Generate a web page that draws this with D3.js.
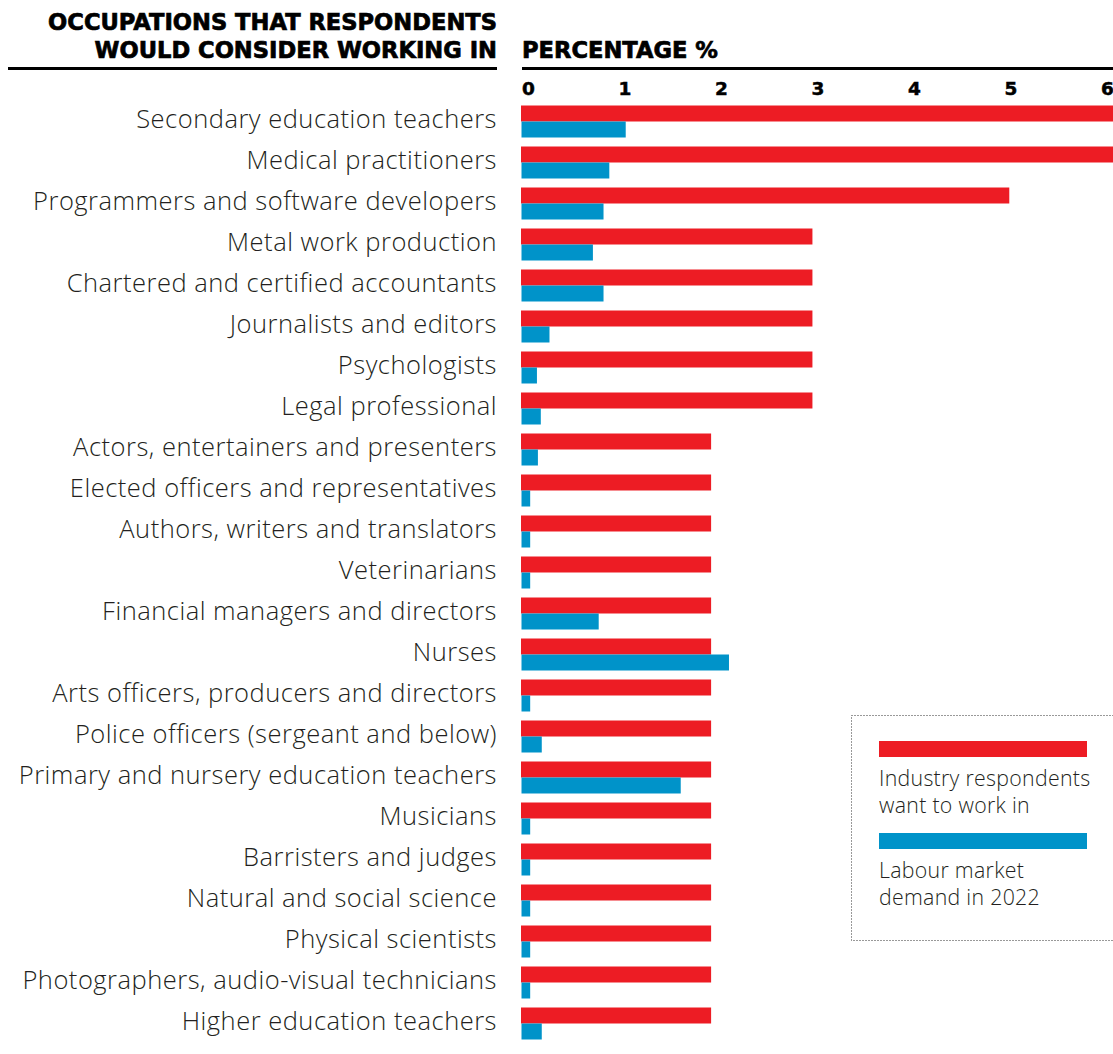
<!DOCTYPE html>
<html>
<head>
<meta charset="utf-8">
<script src="https://cdn.jsdelivr.net/npm/d3@7"></script>
<style>
  html, body { margin: 0; padding: 0; background: #fff; }
  svg { display: block; }
</style>
</head>
<body>
<div id="chart"></div>
<script>
// Data
const occupations = [
    "Secondary education teachers",
    "Medical practitioners",
    "Programmers and software developers",
    "Metal work production",
    "Chartered and certified accountants",
    "Journalists and editors",
    "Psychologists",
    "Legal professional",
    "Actors, entertainers and presenters",
    "Elected officers and representatives",
    "Authors, writers and translators",
    "Veterinarians",
    "Financial managers and directors",
    "Nurses",
    "Arts officers, producers and directors",
    "Police officers (sergeant and below)",
    "Primary and nursery education teachers",
    "Musicians",
    "Barristers and judges",
    "Natural and social science",
    "Physical scientists",
    "Photographers, audio-visual technicians",
    "Higher education teachers"
];

// red: industry respondents want to work in
const wantToWork = [6.2, 6.2, 5.06, 3.02, 3.02, 3.02, 3.02, 3.02,
                    1.97, 1.97, 1.97, 1.97, 1.97, 1.97, 1.97, 1.97,
                    1.97, 1.97, 1.97, 1.97, 1.97, 1.97, 1.97];

// blue: labour market demand in 2022
const marketDemand = [1.08, 0.91, 0.85, 0.74, 0.85, 0.29, 0.16, 0.2,
                      0.17, 0.09, 0.09, 0.09, 0.8, 2.15, 0.09, 0.21,
                      1.65, 0.09, 0.09, 0.09, 0.09, 0.09, 0.21];

const tickValues = [0, 1, 2, 3, 4, 5, 6];

const titleLines = ["OCCUPATIONS THAT RESPONDENTS", "WOULD CONSIDER WORKING IN"];
const axisTitle = "PERCENTAGE %";
const legendItems = [
    { lines: ["Industry respondents", "want to work in"], color: "#ed1c24" },
    { lines: ["Labour market", "demand in 2022"], color: "#0093c9" }
];

// Canvas
const width = 1113;
const height = 1054;
const red = "#ed1c24";
const blue = "#0093c9";
const ink = "#231f20";
const heavy = "'DejaVu Sans', sans-serif";
const light = "'Open Sans', sans-serif";

const svg = d3.select("#chart")
    .append("svg")
    .attr("width", width)
    .attr("height", height);

// scales
const x = d3.scaleLinear()
    .domain([0, 6])
    .range([521, 1100]);

const y = d3.scaleBand()
    .domain(occupations)
    .range([105.5, 105.5 + occupations.length * 41]);

const barH = 16;

// header, left side (stroke thickens the bold face toward the original black weight)
svg.append("g")
    .selectAll("text")
    .data(titleLines)
    .join("text")
    .attr("x", 497)
    .attr("y", (d, i) => 30 + i * 28)
    .attr("text-anchor", "end")
    .attr("font-family", heavy)
    .attr("font-weight", "bold")
    .attr("font-size", 22.6)
    .attr("fill", "#000")
    .attr("stroke", "#000")
    .attr("stroke-width", 0.7)
    .text(d => d);

svg.append("line")
    .attr("x1", 8).attr("x2", 497)
    .attr("y1", 68.5).attr("y2", 68.5)
    .attr("stroke", "#000")
    .attr("stroke-width", 3);

// header, right side
svg.append("text")
    .attr("x", 522)
    .attr("y", 58)
    .attr("font-family", heavy)
    .attr("font-weight", "bold")
    .attr("font-size", 22.6)
    .attr("fill", "#000")
    .attr("stroke", "#000")
    .attr("stroke-width", 0.7)
    .text(axisTitle);

svg.append("line")
    .attr("x1", 522).attr("x2", width)
    .attr("y1", 68.5).attr("y2", 68.5)
    .attr("stroke", "#000")
    .attr("stroke-width", 3);

// top axis: labels only, no domain line or ticks
const topAxis = d3.axisTop(x)
    .tickValues(tickValues)
    .tickSize(0)
    .tickPadding(0)
    .tickFormat(d3.format("d"));

const axisG = svg.append("g")
    .attr("transform", "translate(0, 95)")
    .call(topAxis);

axisG.select(".domain").remove();
axisG.selectAll("text")
    .attr("text-anchor", "start")
    .attr("dx", 0.5)
    .attr("dy", 0)
    .attr("font-family", heavy)
    .attr("font-weight", "bold")
    .attr("font-size", 18.5)
    .attr("fill", "#000")
    .attr("stroke", "#000")
    .attr("stroke-width", 0.5);

// row labels
svg.append("g")
    .selectAll("text")
    .data(occupations)
    .join("text")
    .attr("x", 497)
    .attr("y", d => y(d) + barH + 6)
    .attr("text-anchor", "end")
    .attr("font-family", light)
    .attr("font-weight", 300)
    .attr("font-size", 25.5)
    .attr("letter-spacing", 0.5)
    .attr("fill", ink)
    .text(d => d);

// bars
const rows = occupations.map((name, i) => ({ name, want: wantToWork[i], demand: marketDemand[i] }));

svg.append("g")
    .selectAll("rect")
    .data(rows)
    .join("rect")
    .attr("x", x(0))
    .attr("y", d => y(d.name))
    .attr("width", d => x(d.want) - x(0))
    .attr("height", barH)
    .attr("fill", red);

svg.append("g")
    .selectAll("rect")
    .data(rows)
    .join("rect")
    .attr("x", x(0) + 0.5)
    .attr("y", d => y(d.name) + barH)
    .attr("width", d => x(d.demand) - x(0))
    .attr("height", barH)
    .attr("fill", blue);

// legend
const legend = svg.append("g");

legend.append("rect")
    .attr("x", 851.5)
    .attr("y", 715.5)
    .attr("width", 300)
    .attr("height", 225)
    .attr("fill", "none")
    .attr("stroke", "#333")
    .attr("stroke-width", 1)
    .attr("stroke-dasharray", "1,2");

const item = legend.selectAll(".item")
    .data(legendItems)
    .join("g")
    .attr("class", "item")
    .attr("transform", (d, i) => `translate(879, ${741 + i * 92})`);

item.append("rect")
    .attr("width", 208)
    .attr("height", 16)
    .attr("fill", d => d.color);

item.selectAll("text")
    .data(d => d.lines)
    .join("text")
    .attr("x", 0)
    .attr("y", (d, i) => 45 + i * 26.5)
    .attr("font-family", light)
    .attr("font-weight", 300)
    .attr("font-size", 21.3)
    .attr("letter-spacing", 0.3)
    .attr("fill", ink)
    .text(d => d);
</script>
</body>
</html>
